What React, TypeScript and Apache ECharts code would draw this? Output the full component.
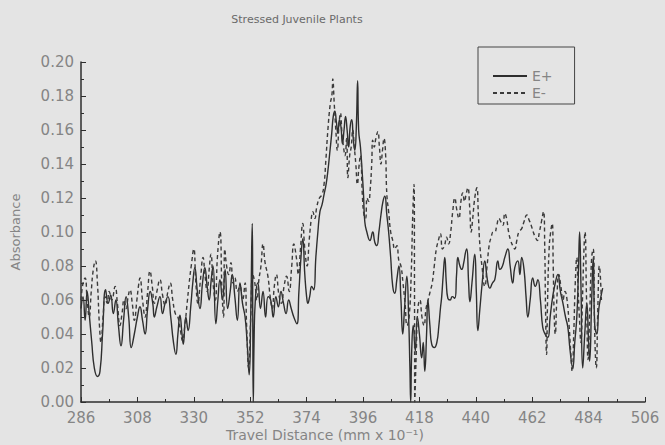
import React, { useEffect, useRef } from "react";
import * as echarts from "echarts";

const titleText = "Stressed Juvenile Plants";
const xName = "Travel Distance (mm x 10⁻¹)";
const yName = "Absorbance";
const seriesNames = ["E+", "E-"];

// [travel distance, absorbance]
const ePlus: number[][] = [
  [286.0, 0.055], [286.8, 0.062], [287.6, 0.048], [288.4, 0.065], [289.2, 0.052], [290.2, 0.035], [291.2, 0.020], [292.4, 0.015],
  [293.4, 0.018], [294.4, 0.040], [295.6, 0.066], [296.6, 0.058], [297.6, 0.063], [298.6, 0.052], [299.6, 0.060], [300.6, 0.045],
  [301.6, 0.033], [302.6, 0.048], [303.6, 0.062], [304.6, 0.050], [305.6, 0.032], [306.8, 0.040], [308.0, 0.050], [309.0, 0.056],
  [310.0, 0.048], [311.0, 0.040], [312.0, 0.055], [313.0, 0.065], [314.0, 0.058], [314.6, 0.050], [315.6, 0.056], [316.8, 0.062],
  [317.8, 0.052], [318.8, 0.058], [319.9, 0.062], [321.0, 0.050], [322.0, 0.036], [323.0, 0.028], [323.8, 0.040], [324.6, 0.051],
  [325.4, 0.040], [325.9, 0.034], [326.9, 0.050], [327.8, 0.042], [328.8, 0.056], [329.6, 0.070], [330.4, 0.079], [331.4, 0.065],
  [332.4, 0.055], [333.4, 0.070], [334.3, 0.079], [335.2, 0.068], [336.0, 0.060], [336.8, 0.072], [337.5, 0.080], [338.6, 0.046],
  [339.4, 0.060], [340.2, 0.072], [341.2, 0.060], [342.2, 0.078], [343.2, 0.055], [344.2, 0.065], [345.0, 0.075], [346.0, 0.062],
  [347.0, 0.048], [348.0, 0.070], [349.0, 0.058], [350.0, 0.050], [350.8, 0.035], [351.6, 0.016], [352.2, 0.050], [352.8, 0.105],
  [353.0, 0.050], [353.2, 0.000], [353.5, 0.035], [354.0, 0.060], [355.0, 0.070], [356.0, 0.055], [357.0, 0.065], [358.0, 0.050],
  [359.0, 0.062], [360.0, 0.060], [361.0, 0.050], [362.0, 0.062], [363.0, 0.056], [364.0, 0.065], [365.0, 0.058], [366.0, 0.052],
  [367.0, 0.060], [368.0, 0.055], [369.0, 0.050], [370.2, 0.046], [371.0, 0.065], [371.8, 0.085], [372.5, 0.096], [373.3, 0.075],
  [374.0, 0.062], [374.5, 0.058], [375.2, 0.062], [376.0, 0.068], [376.8, 0.066], [377.6, 0.085], [378.4, 0.100], [379.2, 0.112],
  [380.0, 0.116], [380.8, 0.122], [381.6, 0.128], [382.3, 0.136], [383.0, 0.146], [383.8, 0.158], [384.4, 0.168], [385.0, 0.171],
  [385.6, 0.165], [386.2, 0.158], [386.8, 0.166], [387.4, 0.162], [388.0, 0.152], [388.6, 0.160], [389.2, 0.168], [389.8, 0.160],
  [390.4, 0.150], [391.0, 0.162], [391.6, 0.166], [392.2, 0.155], [392.8, 0.148], [393.4, 0.162], [393.9, 0.189], [394.3, 0.160],
  [395.0, 0.150], [395.6, 0.137], [396.2, 0.122], [396.7, 0.106], [397.5, 0.100], [398.7, 0.095], [399.8, 0.100], [400.6, 0.094],
  [401.4, 0.092], [402.2, 0.100], [403.0, 0.110], [403.8, 0.118], [404.5, 0.121], [405.3, 0.110], [406.0, 0.100], [406.8, 0.085],
  [407.6, 0.068], [408.4, 0.064], [409.2, 0.072], [410.0, 0.080], [410.8, 0.060], [411.5, 0.040], [412.2, 0.055], [413.1, 0.074],
  [413.8, 0.050], [414.3, 0.020], [414.6, 0.000], [415.0, 0.030], [415.6, 0.045], [416.4, 0.030], [417.2, 0.050], [418.0, 0.040],
  [418.9, 0.026], [419.5, 0.035], [420.1, 0.018], [420.8, 0.040], [421.3, 0.060], [422.1, 0.045], [422.8, 0.034], [423.8, 0.032],
  [424.8, 0.035], [425.6, 0.045], [426.2, 0.055], [426.7, 0.062], [427.3, 0.075], [427.9, 0.085], [428.5, 0.070], [429.1, 0.061],
  [430.0, 0.060], [430.8, 0.062], [431.8, 0.061], [432.5, 0.075], [433.0, 0.085], [433.8, 0.080], [434.5, 0.078], [435.3, 0.082],
  [436.0, 0.088], [436.5, 0.090], [437.2, 0.070], [437.7, 0.059], [438.5, 0.070], [439.6, 0.087], [440.2, 0.065], [440.8, 0.042],
  [441.6, 0.055], [442.5, 0.070], [443.5, 0.083], [444.5, 0.072], [445.5, 0.067], [446.5, 0.070], [447.4, 0.072], [448.6, 0.083],
  [449.4, 0.078], [450.4, 0.080], [451.3, 0.085], [452.5, 0.090], [453.4, 0.080], [454.4, 0.070], [455.2, 0.079], [456.4, 0.083],
  [457.2, 0.075], [457.9, 0.085], [458.8, 0.078], [459.6, 0.062], [460.3, 0.050], [461.2, 0.060], [462.2, 0.073], [463.2, 0.068],
  [464.2, 0.072], [465.2, 0.060], [466.1, 0.044], [467.0, 0.040], [468.1, 0.038], [469.0, 0.050], [470.0, 0.062], [471.0, 0.070],
  [472.0, 0.075], [473.0, 0.065], [474.0, 0.058], [475.0, 0.050], [475.9, 0.044], [476.8, 0.030], [477.8, 0.020], [478.6, 0.035],
  [479.4, 0.050], [480.0, 0.075], [480.5, 0.100], [481.0, 0.070], [481.7, 0.020], [482.5, 0.040], [483.3, 0.058], [484.0, 0.035],
  [484.4, 0.024], [485.2, 0.060], [485.8, 0.085], [486.4, 0.045], [487.2, 0.040], [488.0, 0.055], [488.8, 0.062], [489.5, 0.067],
];

const eMinus: number[][] = [
  [286.0, 0.060], [286.8, 0.070], [287.6, 0.073], [288.4, 0.060], [289.2, 0.050], [290.0, 0.065], [290.8, 0.078], [291.6, 0.083],
  [292.4, 0.070], [293.2, 0.045], [293.8, 0.035], [294.6, 0.050], [295.4, 0.062], [296.2, 0.058], [297.0, 0.065], [298.0, 0.060],
  [299.3, 0.068], [300.2, 0.058], [301.2, 0.045], [302.0, 0.052], [302.8, 0.060], [303.6, 0.055], [304.4, 0.062], [305.1, 0.066],
  [306.0, 0.058], [306.8, 0.048], [307.8, 0.060], [308.4, 0.068], [309.0, 0.073], [310.0, 0.060], [311.0, 0.050], [312.0, 0.065],
  [312.9, 0.077], [313.8, 0.068], [314.6, 0.058], [315.6, 0.065], [316.8, 0.072], [317.8, 0.063], [318.8, 0.057], [319.9, 0.065],
  [320.8, 0.070], [321.8, 0.060], [322.8, 0.052], [323.8, 0.050], [324.8, 0.042], [325.6, 0.036], [326.5, 0.045], [327.4, 0.058],
  [328.2, 0.070], [329.0, 0.080], [330.0, 0.090], [330.8, 0.070], [331.6, 0.058], [332.6, 0.072], [333.6, 0.085], [334.4, 0.074],
  [335.2, 0.065], [336.0, 0.078], [336.7, 0.087], [337.5, 0.070], [338.4, 0.060], [339.2, 0.085], [340.2, 0.100], [341.0, 0.065],
  [341.6, 0.050], [342.1, 0.090], [342.8, 0.080], [343.6, 0.075], [344.5, 0.082], [345.3, 0.070], [346.0, 0.073], [347.0, 0.065],
  [348.0, 0.068], [349.0, 0.060], [350.0, 0.070], [350.6, 0.045], [351.4, 0.020], [352.2, 0.050], [353.0, 0.075], [353.8, 0.070],
  [354.6, 0.060], [355.4, 0.072], [356.2, 0.080], [357.0, 0.093], [357.8, 0.082], [358.9, 0.074], [359.8, 0.062], [360.6, 0.055],
  [361.4, 0.068], [362.2, 0.075], [363.2, 0.063], [364.2, 0.058], [365.2, 0.068], [366.2, 0.074], [367.2, 0.065], [368.2, 0.080],
  [369.0, 0.093], [370.0, 0.085], [370.8, 0.075], [371.6, 0.090], [372.5, 0.105], [373.3, 0.090], [374.2, 0.080], [375.0, 0.095],
  [376.0, 0.110], [376.4, 0.112], [377.2, 0.108], [378.0, 0.115], [379.0, 0.120], [380.0, 0.122], [380.8, 0.128], [381.5, 0.142],
  [382.3, 0.160], [383.2, 0.175], [383.9, 0.181], [384.2, 0.190], [384.8, 0.175], [385.4, 0.160], [386.0, 0.148], [386.6, 0.162],
  [387.2, 0.170], [387.8, 0.158], [388.4, 0.150], [389.0, 0.145], [389.6, 0.155], [390.1, 0.132], [390.8, 0.145], [391.4, 0.150],
  [392.0, 0.160], [392.6, 0.150], [393.2, 0.140], [393.8, 0.128], [394.4, 0.138], [395.0, 0.145], [395.8, 0.120], [396.4, 0.110],
  [397.0, 0.108], [397.6, 0.120], [398.2, 0.118], [398.8, 0.125], [399.4, 0.140], [399.8, 0.154], [400.4, 0.150], [401.0, 0.155],
  [401.8, 0.159], [402.4, 0.150], [403.0, 0.140], [403.6, 0.148], [404.2, 0.155], [404.8, 0.146], [405.3, 0.122], [406.0, 0.112],
  [406.8, 0.100], [407.6, 0.095], [408.4, 0.090], [409.2, 0.092], [410.0, 0.083], [410.8, 0.080], [411.6, 0.070], [412.4, 0.058],
  [413.2, 0.045], [414.0, 0.050], [414.8, 0.075], [415.4, 0.110], [415.9, 0.128], [416.1, 0.060], [416.2, 0.000], [416.8, 0.030],
  [417.4, 0.055], [418.2, 0.060], [419.0, 0.050], [419.8, 0.045], [420.6, 0.055], [421.4, 0.060], [422.2, 0.065], [423.0, 0.070],
  [423.8, 0.080], [424.6, 0.090], [425.4, 0.095], [426.2, 0.099], [427.0, 0.090], [427.8, 0.092], [428.6, 0.097], [429.4, 0.093],
  [430.2, 0.100], [431.0, 0.112], [431.8, 0.120], [432.6, 0.113], [433.4, 0.108], [434.2, 0.118], [434.9, 0.123], [435.6, 0.118],
  [436.2, 0.122], [436.9, 0.126], [437.6, 0.115], [438.2, 0.100], [438.8, 0.108], [439.6, 0.120], [440.4, 0.126], [441.0, 0.110],
  [441.6, 0.092], [442.4, 0.080], [443.5, 0.068], [444.4, 0.080], [445.2, 0.092], [446.0, 0.097], [446.8, 0.100], [447.4, 0.100],
  [448.2, 0.104], [449.0, 0.108], [449.8, 0.106], [450.6, 0.104], [451.3, 0.111], [452.0, 0.108], [452.8, 0.100], [453.6, 0.095],
  [454.4, 0.092], [455.2, 0.090], [456.0, 0.095], [456.8, 0.100], [457.9, 0.102], [458.8, 0.106], [459.9, 0.110], [460.8, 0.107],
  [461.6, 0.104], [462.4, 0.100], [463.2, 0.097], [464.0, 0.095], [464.8, 0.100], [465.6, 0.106], [466.4, 0.112], [466.9, 0.090],
  [467.2, 0.055], [467.6, 0.028], [468.0, 0.060], [468.6, 0.090], [469.2, 0.100], [469.8, 0.105], [470.2, 0.080], [470.6, 0.050],
  [471.0, 0.040], [471.6, 0.060], [472.4, 0.075], [473.2, 0.068], [474.0, 0.060], [474.8, 0.065], [475.6, 0.060], [476.4, 0.045],
  [477.0, 0.030], [477.6, 0.018], [478.2, 0.040], [478.8, 0.070], [479.4, 0.085], [479.8, 0.070], [480.4, 0.050], [481.0, 0.035],
  [481.6, 0.060], [482.2, 0.090], [482.6, 0.100], [483.2, 0.060], [483.8, 0.025], [484.4, 0.050], [485.2, 0.085], [485.8, 0.090],
  [486.4, 0.040], [487.0, 0.020], [487.6, 0.055], [488.2, 0.080], [489.0, 0.060],
];

const xMin = 286;
const xMax = 506;
const xStep = 22;
const yMin = 0;
const yMax = 0.2;
const yStep = 0.02;

const FONT = "DejaVu Sans";
const TEXT = "#858585";
const INK = "#2e2e2e";

export default function App() {
  const ref = useRef<HTMLDivElement>(null);
  useEffect(() => {
    const chart = echarts.init(ref.current!, null, { renderer: "svg" });
    chart.setOption({
      animation: false,
      backgroundColor: "#e4e4e4",
      textStyle: { fontFamily: FONT },
      title: {
        text: titleText,
        left: 292,
        top: 9,
        textAlign: "center",
        textStyle: { fontFamily: FONT, fontSize: 11, fontWeight: "normal", color: "#6a6a6a" },
      },
      grid: { left: 81, right: 20, top: 62, bottom: 43, containLabel: false },
      legend: {
        data: seriesNames,
        orient: "vertical",
        left: 478,
        top: 47,
        padding: [22, 22, 4, 14],
        itemWidth: 34,
        itemHeight: 10,
        itemGap: 3,
        borderColor: "#444",
        borderWidth: 1,
        itemStyle: { opacity: 0 },
        textStyle: { fontFamily: FONT, fontSize: 14, color: TEXT },
      },
      xAxis: {
        type: "value",
        min: xMin,
        max: xMax,
        interval: xStep,
        splitLine: { show: false },
        axisLine: { lineStyle: { color: INK, width: 1.5 } },
        axisTick: { inside: true, length: 5, lineStyle: { color: INK } },
        minorTick: { show: true, splitNumber: 2, length: 3, lineStyle: { color: INK } },
        axisLabel: { margin: 8, fontFamily: FONT, fontSize: 15, color: TEXT },
      },
      yAxis: {
        type: "value",
        min: yMin,
        max: yMax,
        interval: yStep,
        splitLine: { show: false },
        axisLine: { show: true, lineStyle: { color: INK, width: 1.5 } },
        axisTick: { show: true, inside: true, length: 5, lineStyle: { color: INK } },
        minorTick: { show: true, splitNumber: 2, length: 3, lineStyle: { color: INK } },
        axisLabel: { margin: 7, fontFamily: FONT, fontSize: 15, color: TEXT, formatter: (v: number) => v.toFixed(2) },
        name: yName,
        nameLocation: "middle",
        nameGap: 59,
        nameTextStyle: { fontFamily: FONT, fontSize: 13, color: TEXT },
      },
      graphic: [
        {
          type: "text",
          left: 226,
          top: 428,
          style: { text: xName, fontFamily: FONT, fontSize: 14, fill: TEXT },
        },
      ],
      series: [
        {
          name: seriesNames[0],
          type: "line",
          data: ePlus,
          showSymbol: false,
          symbol: "none",
          smooth: 0.5,
          lineStyle: { color: INK, width: 1.4, type: "solid" },
          itemStyle: { color: INK },
        },
        {
          name: seriesNames[1],
          type: "line",
          data: eMinus,
          showSymbol: false,
          symbol: "none",
          smooth: 0.5,
          lineStyle: { color: "#3a3a3a", width: 1.4, type: [4, 3] },
          itemStyle: { color: "#3a3a3a" },
        },
      ],
    });
    return () => chart.dispose();
  }, []);
  return <div ref={ref} style={{ position: "fixed", left: 0, top: 0, width: 665, height: 445 }} />;
}
